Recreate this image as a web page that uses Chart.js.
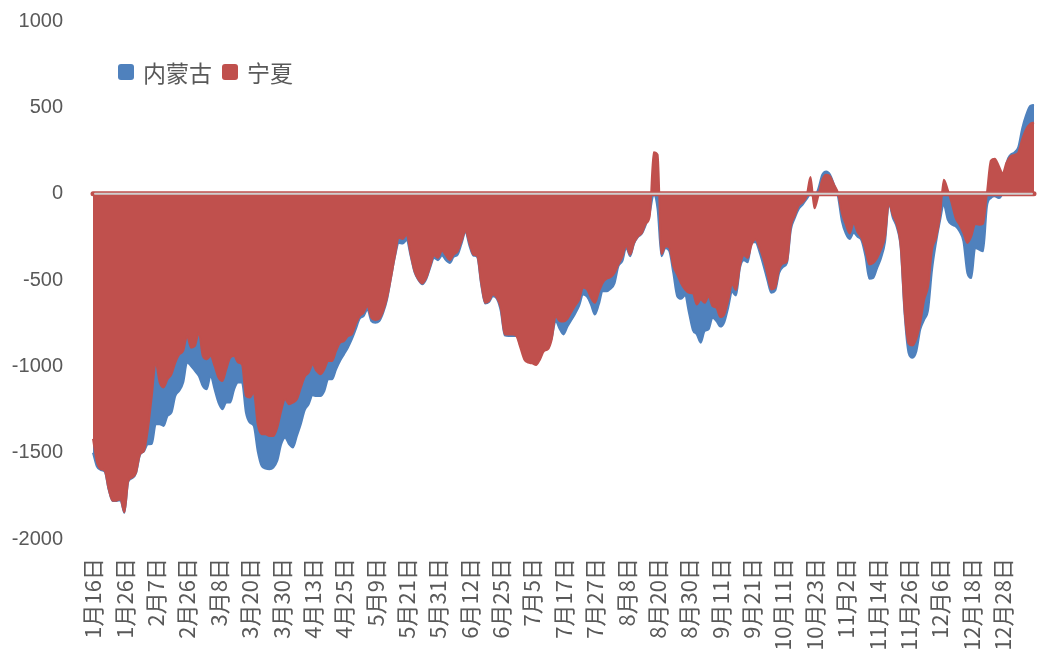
<!DOCTYPE html>
<html>
<head>
<meta charset="utf-8">
<script src="https://cdn.jsdelivr.net/npm/chart.js@4/dist/chart.umd.min.js"></script>
<style>
  body { margin: 0; background: #fff; }
  #wrap { position: relative; width: 1037px; height: 651px; }
  #legend { position: absolute; left: 118px; top: 55px; display: flex; align-items: center;
    font-family: "Noto Sans CJK SC", sans-serif; font-size: 23px; color: #595959; }
  #legend span.box { display: inline-block; width: 16px; height: 16px; border-radius: 3px; margin-right: 9px; }
  #legend span.item { display: flex; align-items: center; margin-right: 10px; }
</style>
</head>
<body>
<div id="wrap">
  <canvas id="myChart" width="1037" height="651"></canvas>
  <div id="legend"></div>
</div>
<script>
var tickLabels = ['1月16日', '1月26日', '2月7日', '2月26日', '3月8日', '3月20日', '3月30日', '4月13日',
    '4月25日', '5月9日', '5月21日', '5月31日', '6月12日', '6月25日', '7月5日', '7月17日', '7月27日',
    '8月8日', '8月20日', '8月30日', '9月11日', '9月21日', '10月11日', '10月23日', '11月2日', '11月14日',
    '11月26日', '12月6日', '12月18日', '12月28日'];

// 内蒙古, one row per tick interval (8 trading days)
var neimenggu = [
    -1500, -1580, -1600, -1610, -1715, -1780, -1780, -1775,
    -1848, -1668, -1648, -1618, -1512, -1492, -1451, -1450,
    -1335, -1335, -1345, -1287, -1268, -1171, -1142, -1094,
    -978, -998, -1027, -1056, -1114, -1133, -1056, -1133,
    -1210, -1248, -1210, -1210, -1133, -1094, -1094, -1268,
    -1326, -1345, -1490, -1576, -1592, -1596, -1586, -1547,
    -1451, -1413, -1451, -1470, -1403, -1335, -1253, -1220,
    -1168, -1172, -1172, -1143, -1075, -1075, -1017, -969,
    -931, -892, -844, -786, -725, -709, -671, -738,
    -748, -738, -690, -613, -488, -366, -285, -289,
    -270, -360, -455, -500, -525, -495, -428, -372,
    -385, -358, -385, -401, -366, -353, -289, -224,
    -301, -358, -368, -526, -636, -628, -594, -609,
    -680, -821, -825, -825, -825, -880, -930, -960,
    -970, -980, -950, -900, -890, -835, -738, -782,
    -815, -770, -732, -694, -648, -584, -597, -642,
    -700, -642, -565, -565, -551, -520, -420, -391,
    -314, -362, -289, -251, -231, -179, -110, -5,
    -90, -362, -314, -333, -459, -594, -609, -590,
    -690, -790, -815, -863, -796, -786, -719, -738,
    -770, -745, -660, -570, -590, -430, -385, -397,
    -280, -281, -339, -416, -501, -574, -561, -459,
    -424, -401, -208, -141, -89, -64, -31, -5,
    -20, 30, 110, 129, 110, 52, -15, -160,
    -231, -262, -227, -250, -270, -362, -493, -488,
    -430, -372, -280, -60, -140, -195, -314, -700,
    -921, -950, -912, -786, -729, -671, -440, -285,
    -160, -64, -151, -179, -189, -218, -276, -459,
    -488, -314, -324, -334, -73, -25, -15, -25,
    10, 177, 225, 239, 270, 379, 456, 508,
    514
];

// 宁夏
var ningxia = [
    -1420, -1555, -1595, -1605, -1711, -1778, -1778, -1770,
    -1845, -1663, -1643, -1614, -1509, -1489, -1364, -1171,
    -978, -1093, -1122, -1075, -1046, -978, -931, -911,
    -825, -892, -882, -805, -940, -959, -940, -998,
    -1065, -1085, -1017, -950, -940, -978, -988, -1171,
    -1181, -1152, -1335, -1393, -1393, -1403, -1403, -1355,
    -1258, -1191, -1220, -1210, -1191, -1124, -1060, -1037,
    -989, -1027, -1046, -1017, -969, -969, -911, -863,
    -854, -825, -815, -757, -709, -690, -651, -719,
    -732, -725, -680, -603, -488, -362, -256, -262,
    -237, -350, -449, -497, -520, -488, -420, -358,
    -372, -330, -358, -385, -353, -333, -275, -218,
    -285, -353, -362, -516, -632, -622, -584, -603,
    -661, -815, -815, -815, -825, -892, -960, -979,
    -983, -992, -960, -912, -902, -844, -709, -738,
    -741, -725, -686, -648, -613, -545, -555, -603,
    -632, -570, -517, -493, -484, -459, -411, -366,
    -301, -353, -285, -247, -227, -174, -130, 240,
    225, -350, -305, -314, -420, -468, -520, -555,
    -574, -578, -642, -613, -632, -594, -651, -661,
    -715, -700, -620, -526, -559, -420, -357, -372,
    -295, -266, -314, -378, -468, -555, -545, -439,
    -405, -391, -189, -127, -69, -50, -15, 96,
    -85, -10, 81, 110, 100, 52, 4, -112,
    -179, -231, -170, -224, -256, -324, -410, -401,
    -372, -322, -250, -55, -125, -180, -305, -680,
    -867, -879, -840, -748, -613, -536, -324, -257,
    -135, 81, 23, -54, -141, -180, -228, -285,
    -247, -176, -180, -174, 4, 192, 202, 162,
    119, 181, 216, 225, 239, 316, 374, 404,
    412
];

var yTicks = { min: -2000, max: 1000, step: 500 };

// one category per trading day, a date shown every 8th day
var labels = ningxia.map(function (v, i) {
    return i % 8 === 0 ? (tickLabels[i / 8] || '') : '';
});

var zeroLine = {
    id: 'zeroLine',
    afterDatasetsDraw: function (chart) {
        var ctx = chart.ctx, area = chart.chartArea;
        var y = chart.scales.y.getPixelForValue(0);
        ctx.save();
        ctx.lineCap = 'round';
        ctx.strokeStyle = '#c0504d';
        ctx.lineWidth = 5;
        ctx.beginPath(); ctx.moveTo(area.left, y); ctx.lineTo(area.right, y); ctx.stroke();
        ctx.strokeStyle = '#d0d0d0';
        ctx.lineWidth = 2;
        ctx.beginPath(); ctx.moveTo(area.left + 2, y); ctx.lineTo(area.right - 2, y); ctx.stroke();
        ctx.restore();
    }
};

var tickFont = { family: '"Noto Sans CJK SC", "Liberation Sans", sans-serif', size: 22 };

function noPad(scale) {
    scale.paddingLeft = 0;
    scale.paddingRight = 0;
    scale.paddingTop = 0;
    scale.paddingBottom = 0;
}

var ctx = document.getElementById('myChart').getContext('2d');
var myChart = new Chart(ctx, {
    type: 'line',
    data: {
        labels: labels,
        datasets: [{
            label: '内蒙古',
            data: neimenggu,
            borderColor: '#4f81bd',
            backgroundColor: '#4f81bd',
            fill: 'origin',
            order: 1
        },
        {
            label: '宁夏',
            data: ningxia,
            borderColor: '#c0504d',
            backgroundColor: '#c0504d',
            fill: 'origin',
            order: 0
        }]
    },
    options: {
        responsive: false,
        animation: false,
        devicePixelRatio: 1,
        layout: { padding: { top: 21, right: 3, left: 0, bottom: 0 } },
        elements: {
            point: { radius: 0 },
            line: { borderWidth: 2, cubicInterpolationMode: 'monotone' }
        },
        plugins: {
            legend: { display: false },
            tooltip: { enabled: false },
            filler: { drawTime: 'beforeDatasetDraw' }
        },
        scales: {
            x: {
                grid: { display: false },
                border: { display: false },
                ticks: {
                    autoSkip: false, maxRotation: 90, minRotation: 90,
                    padding: 11, color: '#595959', font: tickFont
                },
                afterFit: function (scale) { scale.height = 112; noPad(scale); }
            },
            y: {
                min: yTicks.min,
                max: yTicks.max,
                grid: { display: false },
                border: { display: false },
                ticks: {
                    stepSize: yTicks.step, padding: 22, color: '#595959',
                    font: { family: '"Liberation Sans", sans-serif', size: 20 },
                    callback: function (v) { return String(v); }
                },
                afterFit: function (scale) { scale.width = 93; noPad(scale); }
            }
        }
    },
    plugins: [zeroLine]
});

// legend as page text, built from the datasets
var legend = document.getElementById('legend');
myChart.data.datasets.forEach(function (ds) {
    var item = document.createElement('span');
    item.className = 'item';
    var box = document.createElement('span');
    box.className = 'box';
    box.style.background = ds.backgroundColor;
    item.appendChild(box);
    item.appendChild(document.createTextNode(ds.label));
    legend.appendChild(item);
});
</script>
</body>
</html>
